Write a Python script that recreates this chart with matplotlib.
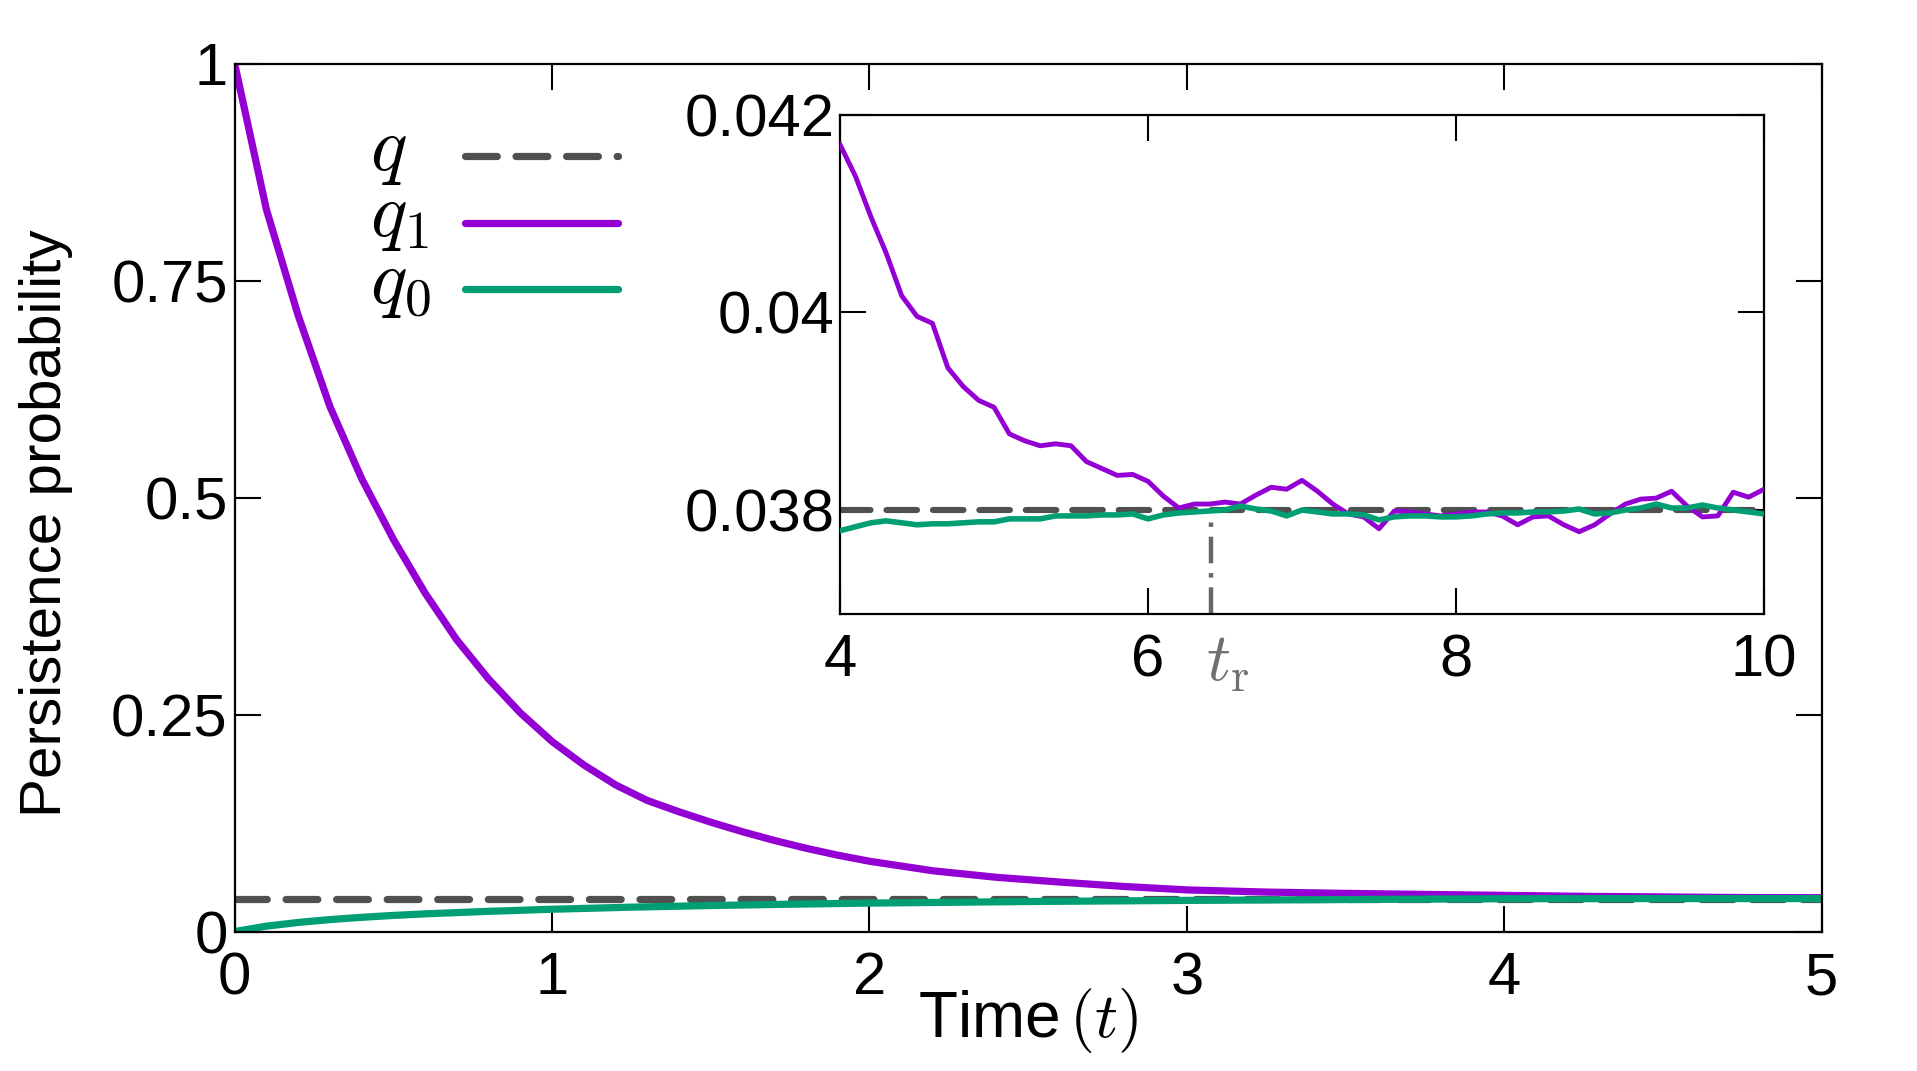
import matplotlib
matplotlib.use("Agg")
import matplotlib.pyplot as plt

plt.rcParams['font.family'] = ['Liberation Sans', 'DejaVu Sans']
plt.rcParams['mathtext.fontset'] = 'cm'

# main panel data
t_main = [0.0, 0.1, 0.2, 0.3, 0.4, 0.5, 0.6, 0.7, 0.8, 0.9,
          1.0, 1.1, 1.2, 1.3, 1.4, 1.5, 1.6, 1.7, 1.8, 1.9,
          2.0, 2.2, 2.4, 2.6, 2.8, 3.0, 3.25, 3.5, 3.75, 4.0,
          4.25, 4.5, 4.75, 5.0]
q1_main = [1.0, 0.832, 0.710, 0.605, 0.522, 0.452, 0.390, 0.336, 0.291, 0.252,
           0.219, 0.192, 0.169, 0.151, 0.138, 0.126, 0.115, 0.105, 0.096, 0.088,
           0.081, 0.070, 0.0625, 0.057, 0.052, 0.048, 0.0455, 0.0440, 0.0428, 0.0417,
           0.0406, 0.0399, 0.0392, 0.0390]
t_q0 = [0.0, 0.1, 0.2, 0.3, 0.4, 0.5, 0.6, 0.8, 1.0, 1.25,
        1.5, 1.75, 2.0, 2.5, 3.0, 3.5, 4.0, 4.5, 5.0]
q0_main = [0.0, 0.0062, 0.0105, 0.0138, 0.0164, 0.0186, 0.0204, 0.0233, 0.0257, 0.0281,
           0.0300, 0.0315, 0.0328, 0.0346, 0.0359, 0.0369, 0.0378, 0.0380, 0.0380]
q_val = 0.0380

# inset data
t_in = [4.0, 4.1, 4.2, 4.3, 4.4, 4.5, 4.6, 4.7, 4.8, 4.9,
        5.0, 5.1, 5.2, 5.3, 5.4, 5.5, 5.6, 5.7, 5.8, 5.9,
        6.0, 6.1, 6.2, 6.3, 6.4, 6.5, 6.6, 6.7, 6.8, 6.9,
        7.0, 7.1, 7.2, 7.3, 7.4, 7.5, 7.6, 7.7, 7.8, 7.9,
        8.0, 8.1, 8.2, 8.3, 8.4, 8.5, 8.6, 8.7, 8.8, 8.9,
        9.0, 9.1, 9.2, 9.3, 9.4, 9.5, 9.6, 9.7, 9.8, 9.9, 10.0]
q1_in = [0.04170, 0.04138, 0.04097, 0.04060, 0.04017, 0.03996, 0.03989, 0.03944, 0.03925, 0.03911,
         0.03904, 0.03877, 0.03870, 0.03865, 0.03867, 0.03865, 0.03849, 0.03842, 0.03835, 0.03836,
         0.03829, 0.03814, 0.03802, 0.03806, 0.03806, 0.03808, 0.03806, 0.03815, 0.03823, 0.03821,
         0.03830, 0.03819, 0.03806, 0.03796, 0.03793, 0.03781, 0.03799, 0.03798, 0.03796, 0.03794,
         0.03796, 0.03798, 0.03798, 0.03794, 0.03785, 0.03793, 0.03794, 0.03785, 0.03778, 0.03785,
         0.03796, 0.03806, 0.03811, 0.03812, 0.03819, 0.03804, 0.03793, 0.03794, 0.03818, 0.03813,
         0.03821]
q0_in = [0.03779, 0.03783, 0.03787, 0.03789, 0.03787, 0.03785, 0.03786, 0.03786, 0.03787, 0.03788,
         0.03788, 0.03791, 0.03791, 0.03791, 0.03794, 0.03794, 0.03794, 0.03795, 0.03795, 0.03796,
         0.03791, 0.03795, 0.03797, 0.03798, 0.03799, 0.03800, 0.03804, 0.03801, 0.03799, 0.03794,
         0.03800, 0.03798, 0.03796, 0.03796, 0.03795, 0.03790, 0.03793, 0.03794, 0.03794, 0.03793,
         0.03793, 0.03794, 0.03796, 0.03797, 0.03797, 0.03798, 0.03798, 0.03799, 0.03801, 0.03796,
         0.03797, 0.03800, 0.03802, 0.03806, 0.03802, 0.03802, 0.03805, 0.03802, 0.03800, 0.03798,
         0.03796]
t_r = 6.41
in_ymin, in_ymax = 0.03695, 0.042

purple = '#9400D3'
green = '#009E73'
gray = '#505050'

fig = plt.figure(figsize=(19.17, 10.71), dpi=100)
ax = fig.add_axes([0.1224, 0.1302, 0.8279, 0.8104])

ax.plot([0, 5], [q_val, q_val], color=gray, lw=5.2, linestyle=(0, (4.4, 2.6)),
        dash_capstyle='round', label=r'$q$')
ax.plot(t_main, q1_main, color=purple, lw=5.2, solid_capstyle='round', label=r'$q_1$')
ax.plot(t_q0, q0_main, color=green, lw=5.2, solid_capstyle='round', label=r'$q_0$')

ax.set_xlim(0, 5)
ax.set_ylim(0, 1)
ax.set_xticks([0, 1, 2, 3, 4, 5])
ax.set_xticklabels(['0', '1', '2', '3', '4', '5'])
ax.set_yticks([0, 0.25, 0.5, 0.75, 1])
ax.set_yticklabels(['0', '0.25', '0.5', '0.75', '1'])
ax.tick_params(direction='in', top=True, right=True, length=19, width=1.5, labelsize=43)
ax.tick_params(axis='x', pad=14)
ax.tick_params(axis='y', pad=5)
for s in ax.spines.values():
    s.set_linewidth(1.6)

ax.set_xlabel(r'Time$\,(t)$', fontsize=46)
ax.xaxis.set_label_coords(0.5, -0.063)
ax.set_ylabel('Persistence probability', fontsize=42)
ax.yaxis.set_label_coords(-0.1017, 0.471)

leg = ax.legend(loc='upper left', bbox_to_anchor=(0.085, 0.926), frameon=False,
                markerfirst=False, fontsize=55, handlelength=2.0, handletextpad=0.46,
                labelspacing=-0.07, borderpad=0, borderaxespad=0)
# left-align the legend labels (markerfirst=False right-aligns them)
# and lift them a little so they sit level with their keys
fig.canvas.draw()
txts = leg.get_texts()
r = fig.canvas.get_renderer()
w_max = max(t.get_window_extent(r).width for t in txts)
for t in txts:
    t.set_x(t.get_window_extent(r).width - w_max)
    t.set_y(13)

# inset
axi = fig.add_axes([0.4382, 0.427, 0.482, 0.4657])
axi.plot([4, 10], [q_val, q_val], color=gray, lw=4.4, linestyle=(0, (5.0, 2.6)),
         dash_capstyle='round', zorder=2)
axi.plot(t_in, q1_in, color=purple, lw=3.5, zorder=3)
axi.plot(t_in, q0_in, color=green, lw=4.0, zorder=4)
axi.plot([t_r, t_r], [in_ymin, q_val], color='#666666', lw=3.2,
         linestyle=(0, (6, 2.2, 1, 2.2)), zorder=1)
axi.set_xlim(4, 10)
axi.set_ylim(in_ymin, in_ymax)
axi.set_xticks([4, 6, 8, 10])
axi.set_xticklabels(['4', '6', '8', '10'])
axi.set_yticks([0.038, 0.04, 0.042])
axi.set_yticklabels(['0.038', '0.04', '0.042'])
axi.tick_params(direction='in', top=True, right=True, length=19, width=1.5, labelsize=43)
axi.tick_params(axis='x', pad=14)
axi.tick_params(axis='y', pad=4)
for s in axi.spines.values():
    s.set_linewidth(1.6)
axi.annotate(r'$t_{\mathrm{r}}$', xy=(t_r, 0), xycoords=('data', 'axes fraction'),
             xytext=(12, -14), textcoords='offset points', ha='center', va='top',
             fontsize=48, color='#707070')

fig.savefig('out.png', dpi=100)
